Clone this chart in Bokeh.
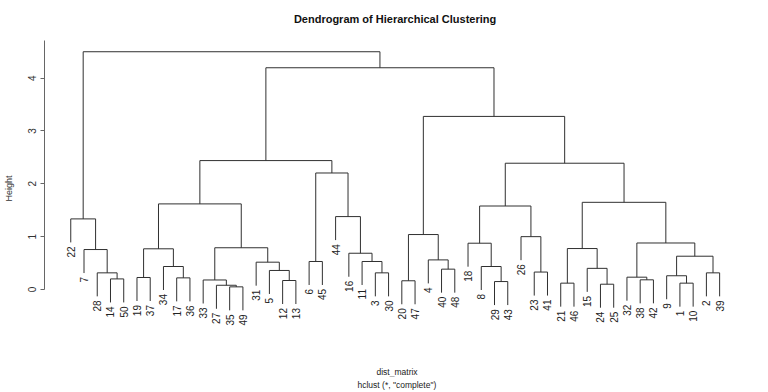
import numpy as np
from bokeh.plotting import figure
from bokeh.models import Range1d, FixedTicker, ColumnDataSource, Title
from bokeh.core.properties import value
from bokeh.embed import file_html
from bokeh.resources import INLINE

# ---------------- data ----------------
leaf_order = [22, 7, 28, 14, 50, 19, 37, 34, 17, 36, 33, 27, 35, 49, 31, 5, 12, 13, 6, 45,
              44, 16, 11, 3, 30, 20, 47, 4, 40, 48, 18, 8, 29, 43, 26, 23, 41, 21, 46, 15,
              24, 25, 32, 38, 42, 9, 1, 10, 2, 39]

# R-style merge matrix: negative = leaf label, positive = earlier merge (1-based)
merge_left = [-35, -27, -24, -21, -1, -29, -20, -12, -33, -38, -14, -17, -19, -32, -9, -28,
              -3, -2, -23, -5, -40, -15, -34, -8, -31, -6, -11, -4, 15, -16, -7, 13, 4, 9,
              -18, 14, -26, 7, -22, -44, 32, 35, 33, 26, 42, 41, 38, 46, 39]
merge_right = [-49, 1, -25, -46, -10, -43, -47, -13, 2, -42, -50, -36, -37, 10, 5, 11,
               -30, -39, -41, 8, -48, 3, 12, 6, 20, -45, 17, 21, 18, 27, 16, 23, 22, 25,
               24, 29, 19, 28, 31, 30, 34, 37, 36, 40, 43, 44, 45, 47, 48]
merge_height = [0.05, 0.08, 0.10, 0.12, 0.12, 0.15, 0.165, 0.17, 0.18, 0.183, 0.20, 0.22,
                0.227, 0.233, 0.26, 0.315, 0.315, 0.315, 0.33, 0.36, 0.385, 0.40, 0.435,
                0.435, 0.517, 0.53, 0.53, 0.56, 0.63, 0.686, 0.756, 0.77, 0.775, 0.79,
                0.876, 0.88, 1.0, 1.04, 1.336, 1.38, 1.62, 1.58, 1.65, 2.205, 2.39, 2.44,
                3.276, 4.197, 4.50]

y_ticks = [0, 1, 2, 3, 4]
title_text = "Dendrogram of Hierarchical Clustering"
xlab_text = "dist_matrix"
sub_text = 'hclust (*, "complete")'
ylab_text = "Height"

# ---------------- dendrogram geometry ----------------
hang = 0.1 * (max(merge_height) - min(merge_height))
leaf_pos = {lab: i for i, lab in enumerate(leaf_order)}
node_x = {}
x0, y0, x1, y1 = [], [], [], []
leaf_x, leaf_y, leaf_txt = [], [], []

def child_info(c, h):
    if c < 0:
        lx = leaf_pos[-c]
        ly = h - hang
        leaf_x.append(lx)
        leaf_y.append(ly)
        leaf_txt.append(str(-c))
        return lx, ly
    return node_x[c], merge_height[c - 1]

for i, (a, b, h) in enumerate(zip(merge_left, merge_right, merge_height), start=1):
    xa, ya = child_info(a, h)
    xb, yb = child_info(b, h)
    node_x[i] = (xa + xb) / 2.0
    x0 += [xa, xa, xb]
    y0 += [h, h, h]
    x1 += [xb, xa, xb]
    y1 += [h, ya, yb]

# ---------------- figure ----------------
W, H = 768, 392
p = figure(width=W, height=H, output_backend="svg", toolbar_location=None,
           x_axis_type=None, min_border_left=43, min_border_right=0,
           min_border_top=0, min_border_bottom=16,
           x_range=Range1d(-1.983, 52.69), y_range=Range1d(-1.647, 5.470))
p.outline_line_color = None
p.grid.visible = False
p.background_fill_color = "white"
p.border_fill_color = "white"

p.segment(x0=x0, y0=y0, x1=x1, y1=y1, line_color="#303030", line_width=1)

src = ColumnDataSource(dict(x=leaf_x, y=leaf_y, t=leaf_txt))
p.text(x="x", y="y", text="t", source=src, angle=np.pi / 2, text_align="right",
       text_baseline="middle", y_offset=4, text_font=value("Liberation Sans"),
       text_font_size="10px", text_color="#222222")

p.text(x=[24.49], y=[5.111], text=[title_text], text_align="center", text_baseline="middle",
       text_font=value("Liberation Sans"), text_font_style="bold", text_font_size="11px",
       text_color="#111111")

p.text(x=[24.64], y=[-1.571], text=[xlab_text], text_align="center", text_baseline="middle",
       text_font=value("Liberation Sans"), text_font_size="8.5px", text_color="#222222")

p.add_layout(Title(text=sub_text, align="left", offset=313, standoff=3,
                   text_font="Liberation Sans", text_font_style="normal",
                   text_font_size="8.5px", text_color="#222222"), "below")

ya = p.yaxis[0]
ya.ticker = FixedTicker(ticks=y_ticks)
ya.bounds = (0, 4.71)
ya.axis_line_color = "#666666"
ya.major_tick_line_color = "#666666"
ya.minor_tick_line_color = None
ya.major_tick_out = 4
ya.major_tick_in = 0
ya.major_label_orientation = "vertical"
ya.major_label_standoff = 4
ya.major_label_text_font = "Liberation Sans"
ya.major_label_text_font_size = "10px"
ya.major_label_text_color = "#333333"
ya.axis_label = ylab_text
ya.axis_label_text_font = "Liberation Sans"
ya.axis_label_text_font_style = "normal"
ya.axis_label_text_font_size = "9px"
ya.axis_label_text_color = "#333333"
ya.axis_label_standoff = 12

open("out.html", "w").write(file_html(p, INLINE))
